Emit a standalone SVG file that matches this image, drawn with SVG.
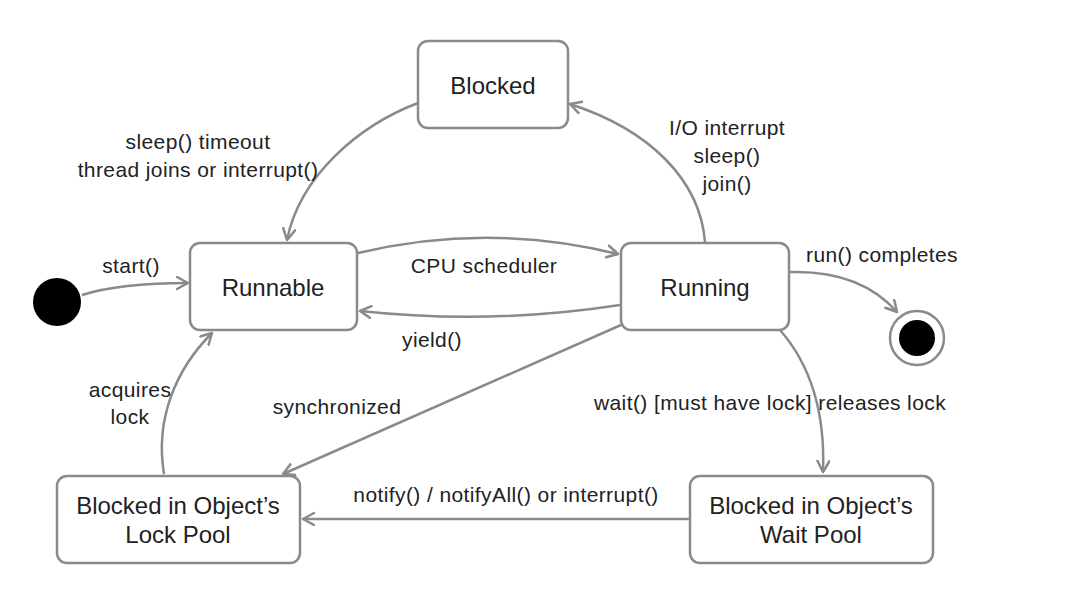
<svg xmlns="http://www.w3.org/2000/svg" width="1084" height="612" viewBox="0 0 1084 612">
<style>
.node rect{fill:#fff;stroke:#8a8a8a;stroke-width:2.5}
.nt{font-family:"Liberation Sans",Arial,sans-serif;font-size:24px;fill:#222;text-anchor:middle}
.et{font-family:"Liberation Sans",Arial,sans-serif;font-size:21px;fill:#222;text-anchor:middle;letter-spacing:0.4px}
.edge{fill:none;stroke:#8a8a8a;stroke-width:2.5;marker-end:url(#arr)}
</style>
<defs>
<marker id="arr" markerUnits="userSpaceOnUse" markerWidth="16" markerHeight="16" refX="12" refY="7" orient="auto" viewBox="0 0 16 16">
<path d="M1,1 L12,7 L1,13" fill="none" stroke="#8a8a8a" stroke-width="2.5" stroke-linecap="round" stroke-linejoin="round"/>
</marker>
</defs>
<rect width="1084" height="612" fill="#fff"/>
<g id="connectors">
<path class="edge" d="M82 295 Q120 283 188 283"/>
<path class="edge" d="M418 103 C360 125 300 175 287 240"/>
<path class="edge" d="M705 242 C700 180 650 130 570 104"/>
<path class="edge" d="M358 253 Q488 222 618 254"/>
<path class="edge" d="M620 305 Q490 325 360 311"/>
<path class="edge" d="M790 272 Q860 270 897 312"/>
<path class="edge" d="M621 325 L283 474"/>
<path class="edge" d="M780 330 C815 370 825 420 823 472"/>
<path class="edge" d="M689 519 L303 519"/>
<path class="edge" d="M164 474 C155 420 175 370 212 333"/>
<text class="et" x="131" y="273">start()</text>
<text class="et" x="198" y="149">sleep() timeout</text>
<text class="et" x="198" y="177">thread joins or interrupt()</text>
<text class="et" x="727" y="135">I/O interrupt</text>
<text class="et" x="727" y="163">sleep()</text>
<text class="et" x="727" y="191">join()</text>
<text class="et" x="484" y="273">CPU scheduler</text>
<text class="et" x="432" y="347">yield()</text>
<text class="et" x="882" y="262">run() completes</text>
<text class="et" x="130" y="397">acquires</text>
<text class="et" x="130" y="424">lock</text>
<text class="et" x="337" y="414">synchronized</text>
<text class="et" x="770" y="410">wait() [must have lock] releases lock</text>
<text class="et" x="506" y="502">notify() / notifyAll() or interrupt()</text>
</g>
<g id="initial"><circle cx="57" cy="302" r="24" fill="#000"/></g>
<g id="final"><circle cx="917" cy="338" r="27" fill="#fff" stroke="#8a8a8a" stroke-width="2.5"/><circle cx="917" cy="338" r="18" fill="#000"/></g>
<g id="blocked" class="node"><rect x="418" y="41" width="150" height="87" rx="10"/><text class="nt" x="493" y="94">Blocked</text></g>
<g id="runnable" class="node"><rect x="190" y="243" width="167" height="87" rx="10"/><text class="nt" x="273" y="296">Runnable</text></g>
<g id="running" class="node"><rect x="621" y="243" width="168" height="87" rx="10"/><text class="nt" x="705" y="296">Running</text></g>
<g id="lockpool" class="node"><rect x="57" y="476" width="243" height="87" rx="10"/><text class="nt" x="178" y="514">Blocked in Object’s</text><text class="nt" x="178" y="543">Lock Pool</text></g>
<g id="waitpool" class="node"><rect x="690" y="476" width="243" height="87" rx="10"/><text class="nt" x="811" y="514">Blocked in Object’s</text><text class="nt" x="811" y="543">Wait Pool</text></g>
</svg>
